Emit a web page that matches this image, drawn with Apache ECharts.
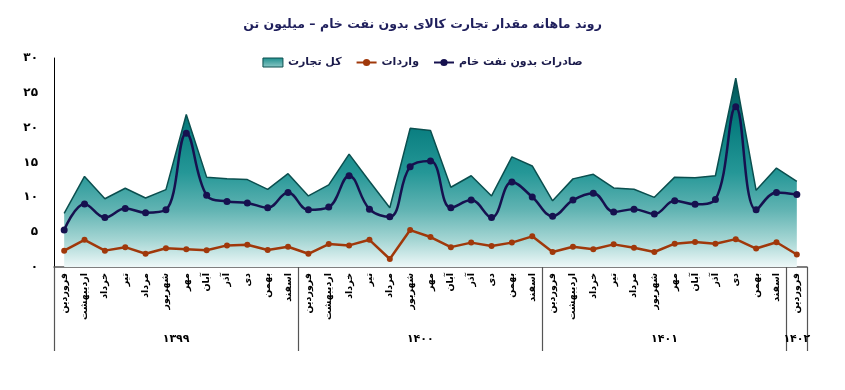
<!DOCTYPE html>
<html><head><meta charset="utf-8">
<script src="https://cdn.jsdelivr.net/npm/echarts@6/dist/echarts.min.js"></script>
<style>html,body{margin:0;padding:0;background:#fff}#c{width:845px;height:390px}</style>
</head><body><div id="c"></div>
<script>
const months = ['فروردین','اردیبهشت','خرداد','تیر','مرداد','شهریور','مهر','آبان','آذر','دی','بهمن','اسفند'];
const categories = [].concat(months, months, months, ['فروردین']);
const yearLabels = ['۱۳۹۹','۱۴۰۰','۱۴۰۱','۱۴۰۲'];
const yearCenters = [6, 18, 30, 36.5];
const yTickLabels = ['۰','۵','۱۰','۱۵','۲۰','۲۵','۳۰'];
const exportsNonOil = [5.3, 9.05, 7.1, 8.4, 7.8, 8.2, 19.2, 10.3, 9.4, 9.2, 8.5, 10.7,
  8.2, 8.6, 13.1, 8.3, 7.2, 14.4, 15.2, 8.5, 9.6, 7.1, 12.2, 10.05,
  7.3, 9.6, 10.6, 7.9, 8.3, 7.6, 9.5, 9.0, 9.7, 23.0, 8.2, 10.7,
  10.4];
const importsVals = [2.35, 3.9, 2.35, 2.85, 1.9, 2.7, 2.55, 2.4, 3.1, 3.2, 2.45, 2.9,
  1.9, 3.3, 3.1, 3.9, 1.15, 5.3, 4.3, 2.85, 3.5, 3.0, 3.5, 4.4,
  2.15, 2.9, 2.55, 3.25, 2.75, 2.15, 3.35, 3.6, 3.35, 4.0, 2.65, 3.55,
  1.8];
const totalTrade = [7.7, 13.0, 9.8, 11.3, 9.9, 11.1, 21.9, 12.9, 12.65, 12.55, 11.15, 13.4,
  10.2, 11.8, 16.2, 12.3, 8.5, 19.9, 19.6, 11.45, 13.1, 10.2, 15.8, 14.5,
  9.5, 12.65, 13.3, 11.35, 11.15, 10.0, 12.9, 12.8, 13.1, 27.1, 11.0, 14.2,
  12.3];
const names = {exp:'صادرات بدون نفت خام', imp:'واردات', tot:'کل تجارت'};
const FONT = 'DejaVu Sans';

const areaGrad = new echarts.graphic.LinearGradient(0,0,0,1,[
  {offset:0,color:'#055456'},{offset:0.25,color:'#087d7f'},{offset:0.5,color:'#259797'},
  {offset:0.7,color:'#62b4b3'},{offset:0.86,color:'#a6d6d4'},{offset:1,color:'#eef8f8'}]);
const legendGrad = new echarts.graphic.LinearGradient(0,0,0,1,[
  {offset:0,color:'#1a8c8b'},{offset:1,color:'#8fcac8'}]);

const chart = echarts.init(document.getElementById('c'), null, {renderer:'canvas'});
chart.setOption({
  animation:false,
  title:{text:'روند ماهانه مقدار تجارت کالای بدون نفت خام – میلیون تن', left:'center', top:13,
    textStyle:{fontFamily:FONT, fontWeight:'bold', fontSize:12.5, color:'#1f1f5c'}},
  legend:{top:52, left:'center', itemGap:14, itemWidth:20, itemHeight:9,
    textStyle:{fontFamily:FONT, fontWeight:'bold', fontSize:11, color:'#1a1a4a'},
    data:[{name:names.tot, icon:'rect', itemStyle:{color:legendGrad, borderColor:'#0b4f4f', borderWidth:1}},
          {name:names.imp}, {name:names.exp}]},
  grid:{left:54, right:38, top:58, bottom:123},
  xAxis:[{type:'category', data:categories, boundaryGap:true,
    axisLine:{lineStyle:{color:'#555', width:1.5}},
    axisTick:{show:true, length:84, interval:function(i){return i%12===0;}, lineStyle:{color:'#555', width:1.2}},
    axisLabel:{interval:0, rotate:90, margin:6, fontFamily:FONT, fontWeight:'bold', fontSize:9.5, color:'#000'}},
   {type:'value', min:0, max:37, interval:0.5, position:'bottom', gridIndex:0,
    axisLine:{show:false}, axisTick:{show:false}, splitLine:{show:false},
    axisLabel:{margin:67, showMinLabel:true, showMaxLabel:true, fontFamily:FONT, fontWeight:'bold', fontSize:11, color:'#000',
      formatter:function(v){const k=yearCenters.indexOf(v);return k>=0?yearLabels[k]:'';}}}],
  yAxis:{type:'value', min:0, max:30, interval:5,
    axisLine:{show:true, lineStyle:{color:'#000', width:1}}, axisTick:{show:false}, splitLine:{show:false},
    axisLabel:{margin:16, fontFamily:FONT, fontWeight:'bold', fontSize:12, color:'#000',
      formatter:function(v){return yTickLabels[Math.round(v/5)];}}},
  series:[
    {name:names.tot, type:'line', xAxisIndex:0, data:totalTrade, symbol:'none', smooth:false,
     lineStyle:{color:'#0b4f4f', width:1.5}, itemStyle:{color:'#0b4f4f'},
     areaStyle:{color:areaGrad, opacity:1}, z:1},
    {name:names.imp, type:'line', xAxisIndex:0, data:importsVals, symbol:'circle', symbolSize:6, smooth:false,
     lineStyle:{color:'#a0380a', width:2.5}, itemStyle:{color:'#a0380a'}, z:3},
    {name:names.exp, type:'line', xAxisIndex:0, data:exportsNonOil, symbol:'circle', symbolSize:7, smooth:0.4,
     lineStyle:{color:'#16114f', width:2.5}, itemStyle:{color:'#16114f'}, z:4}
  ]
});
</script></body></html>
